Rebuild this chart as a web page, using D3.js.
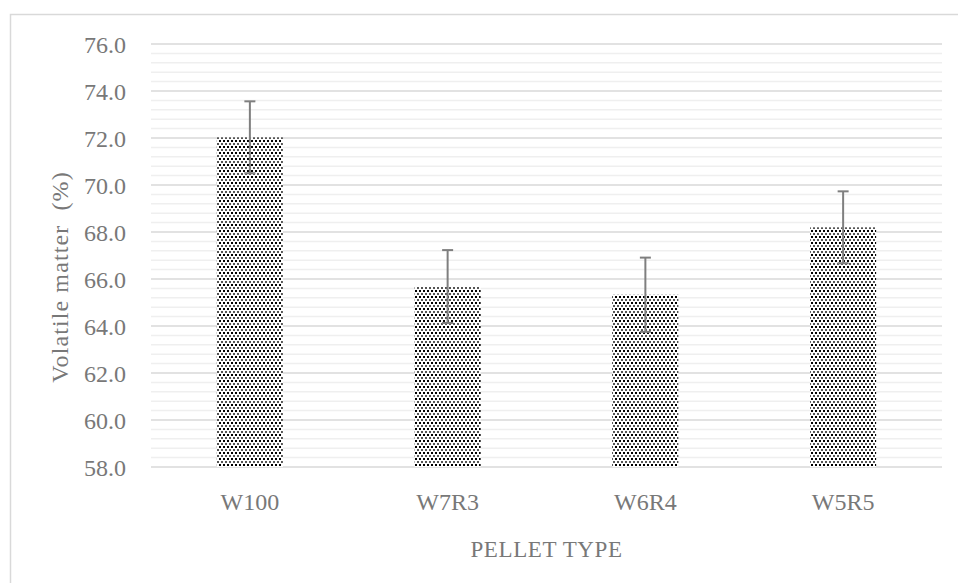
<!DOCTYPE html>
<html>
<head>
<meta charset="utf-8">
<script src="https://cdn.jsdelivr.net/npm/d3@7"></script>
<style>
  body { margin: 0; background: #fff; }
  text { font-family: "Liberation Serif", "DejaVu Serif", serif; fill: #787878; }
</style>
</head>
<body>
<svg id="chart"></svg>
<script>
// data
const categories = ['W100', 'W7R3', 'W6R4', 'W5R5'];
const values = [72.03, 65.68, 65.33, 68.20];
const errors = [1.53, 1.55, 1.58, 1.53];
const yTicks = [58, 60, 62, 64, 66, 68, 70, 72, 74, 76];

const config = {
  width: 958,
  height: 583,
  margin: {top: 44, right: 16, bottom: 116, left: 151}
};

const svg = d3.select('#chart')
  .attr('width', config.width)
  .attr('height', config.height);

// outer chart border
svg.append('rect')
  .attr('x', 10.5).attr('y', 14.5)
  .attr('width', 960).attr('height', 600)
  .attr('fill', 'none')
  .attr('stroke', '#d9d9d9')
  .attr('stroke-width', 1.5);

// dotted fill pattern for the bars
const pat = svg.append('defs').append('pattern')
  .attr('id', 'dots')
  .attr('patternUnits', 'userSpaceOnUse')
  .attr('width', 4).attr('height', 6);
pat.append('rect').attr('width', 4).attr('height', 6).attr('fill', '#fff');
pat.append('rect').attr('x', 0).attr('y', 0).attr('width', 2).attr('height', 2).attr('fill', '#000');
pat.append('rect').attr('x', 2).attr('y', 3).attr('width', 2).attr('height', 2).attr('fill', '#555');

const width = config.width - config.margin.left - config.margin.right;
const height = config.height - config.margin.top - config.margin.bottom;

const chart = svg.append('g')
  .attr('transform', `translate(${config.margin.left},${config.margin.top})`);

const xScale = d3.scaleBand()
  .domain(categories)
  .range([0, width])
  .paddingInner(0.666)
  .paddingOuter(0.333);

const yScale = d3.scaleLinear()
  .domain([58, 76])
  .range([height, 0]);

// minor gridlines every 0.4
const minor = d3.range(58.4, 76, 0.4).filter(v => Math.abs(v / 2 - Math.round(v / 2)) > 0.01);
chart.selectAll('.minor')
  .data(minor)
  .join('line')
    .attr('class', 'minor')
    .attr('x1', 0).attr('x2', width)
    .attr('y1', d => yScale(d)).attr('y2', d => yScale(d))
    .attr('stroke', '#efefef')
    .attr('stroke-width', 1.5);

// major gridlines
chart.selectAll('.major')
  .data(yTicks)
  .join('line')
    .attr('class', 'major')
    .attr('x1', 0).attr('x2', width)
    .attr('y1', d => yScale(d)).attr('y2', d => yScale(d))
    .attr('stroke', '#d9d9d9')
    .attr('stroke-width', 1.5);

// y axis labels
const yAxis = d3.axisLeft(yScale)
  .tickValues(yTicks)
  .tickFormat(d3.format('.1f'))
  .tickSize(0)
  .tickPadding(25);

chart.append('g')
  .call(yAxis)
  .call(g => g.select('.domain').remove())
  .call(g => g.selectAll('text')
    .attr('fill', '#787878')
    .attr('dy', '0.37em')
    .style('font-size', '24px')
    .style('font-family', '"Liberation Serif", serif'));

// x axis labels
const xAxis = d3.axisBottom(xScale).tickSize(0).tickPadding(26);
chart.append('g')
  .attr('transform', `translate(0,${height})`)
  .call(xAxis)
  .call(g => g.select('.domain').remove())
  .call(g => g.selectAll('text')
    .attr('fill', '#787878')
    .style('font-size', '24px')
    .style('font-family', '"Liberation Serif", serif'));

// bars
chart.selectAll('.bar')
  .data(categories)
  .join('rect')
    .attr('class', 'bar')
    .attr('x', d => xScale(d))
    .attr('width', xScale.bandwidth())
    .attr('y', (d, i) => yScale(values[i]))
    .attr('height', (d, i) => height - yScale(values[i]))
    .attr('fill', 'url(#dots)');

// error bars
const cap = 5.5;
const eb = chart.selectAll('.err')
  .data(categories)
  .join('g')
    .attr('class', 'err')
    .attr('stroke', '#7f7f7f')
    .attr('stroke-width', 2);
eb.append('line')
  .attr('x1', d => xScale(d) + xScale.bandwidth() / 2)
  .attr('x2', d => xScale(d) + xScale.bandwidth() / 2)
  .attr('y1', (d, i) => yScale(values[i] - errors[i]))
  .attr('y2', (d, i) => yScale(values[i] + errors[i]));
eb.append('line')
  .attr('x1', d => xScale(d) + xScale.bandwidth() / 2 - cap)
  .attr('x2', d => xScale(d) + xScale.bandwidth() / 2 + cap)
  .attr('y1', (d, i) => yScale(values[i] + errors[i]))
  .attr('y2', (d, i) => yScale(values[i] + errors[i]));
eb.append('line')
  .attr('x1', d => xScale(d) + xScale.bandwidth() / 2 - cap)
  .attr('x2', d => xScale(d) + xScale.bandwidth() / 2 + cap)
  .attr('y1', (d, i) => yScale(values[i] - errors[i]))
  .attr('y2', (d, i) => yScale(values[i] - errors[i]));

// axis titles
svg.append('text')
  .attr('x', config.margin.left + width / 2)
  .attr('y', 557)
  .attr('text-anchor', 'middle')
  .style('font-size', '23px')
  .style('letter-spacing', '0.6px')
  .text('PELLET TYPE');

svg.append('text')
  .attr('transform', 'translate(68,277) rotate(-90)')
  .attr('text-anchor', 'middle')
  .style('font-size', '24px')
  .style('letter-spacing', '1.1px')
  .style('white-space', 'pre')
  .text('Volatile matter  (%)');
</script>
</body>
</html>
